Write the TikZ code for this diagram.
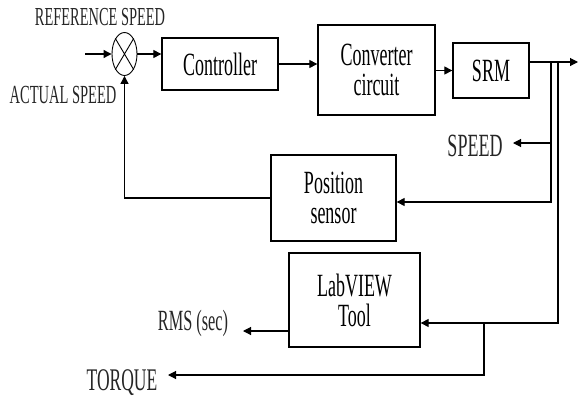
\documentclass[tikz,border=0pt]{standalone}
\usepackage{fontspec}
\setmainfont{Liberation Serif}
\usetikzlibrary{positioning,arrows.meta,shapes.geometric}
\newcommand{\tallt}[1]{\scalebox{1}[1.8]{#1}}

\begin{document}
\begin{tikzpicture}[x=1pt, y=-1pt, line width=1.1pt,
    blk/.style={draw, line width=1.3pt, align=center, inner sep=0pt, font=\fontsize{18}{30}\selectfont},
    lbl/.style={inner sep=0pt, text=black!85},
    arr/.style={-{Triangle[length=8pt,width=8pt]}}]
    \useasboundingbox (0,0) rectangle (579,399);

    % summing junction
    \node[draw, ellipse, minimum width=25pt, minimum height=43pt, line width=0.9pt] (sum) at (124.5,54) {};
    \draw[line width=0.9pt] (sum.north west) -- (sum.south east) (sum.north east) -- (sum.south west);

    % blocks
    \node[blk, minimum width=116pt, minimum height=52pt] (ctrl) at (220,64) {\tallt{Controller}};
    \node[blk, minimum width=117pt, minimum height=90pt] (conv) at (376.5,70) {\tallt{Converter}\\\tallt{circuit}};
    \node[blk, minimum width=76pt, minimum height=55pt] (srm) at (491,70.5) {\tallt{SRM}};
    \node[blk, minimum width=125pt, minimum height=86pt] (pos) at (333.5,198) {\tallt{Position}\\\tallt{sensor}};
    \node[blk, minimum width=131pt, minimum height=94pt] (lab) at (354.5,300) {\tallt{LabVIEW}\\\tallt{Tool}};

    % labels
    \node[lbl, font=\fontsize{14.4}{16}\selectfont] (ref) at (100,17) {\tallt{REFERENCE SPEED}};
    \node[lbl, font=\fontsize{14.5}{16}\selectfont] (act) at (63,95) {\tallt{ACTUAL SPEED}};
    \node[lbl, font=\fontsize{18}{20}\selectfont] (spd) at (475,146) {\tallt{SPEED}};
    \node[lbl, font=\fontsize{16.3}{18}\selectfont] (rms) at (193,323) {\tallt{RMS (sec)}};
    \node[lbl, font=\fontsize{17.5}{20}\selectfont] (trq) at (122,383) {\tallt{TORQUE}};

    % branch points and free ends
    \coordinate (refin) at (85,54);
    \coordinate (outend) at (578,62);
    \coordinate (b1) at (551,62);
    \coordinate (b2) at (558,62);
    \coordinate (b3) at (484,323);
    \coordinate (spdend) at (513,143);
    \coordinate (rmsend) at (243,331);
    \coordinate (trqend) at (168,375);
    \coordinate (rmsstart) at (lab.west |- rmsend);

    % connectors
    \draw[arr] (refin) -- (sum.west);
    \draw[arr] (sum.east) -- (sum.east -| ctrl.west);
    \draw[arr] (ctrl.east) -- (ctrl.east -| conv.west);
    \draw[arr] (srm.west -| conv.east) -- (srm.west);
    \draw[arr] (srm.east |- outend) -- (outend);
    \draw[arr] (b1) |- (spdend);
    \draw[arr] (b1) |- ([yshift=-4pt]pos.east);
    \draw[arr] (b2) |- ([yshift=-23pt]lab.east);
    \draw[arr] (rmsstart) -- (rmsend);
    \draw[arr] (b3) |- (trqend);
    \draw[arr] (pos.west) -| (sum.south);
\end{tikzpicture}
\end{document}
